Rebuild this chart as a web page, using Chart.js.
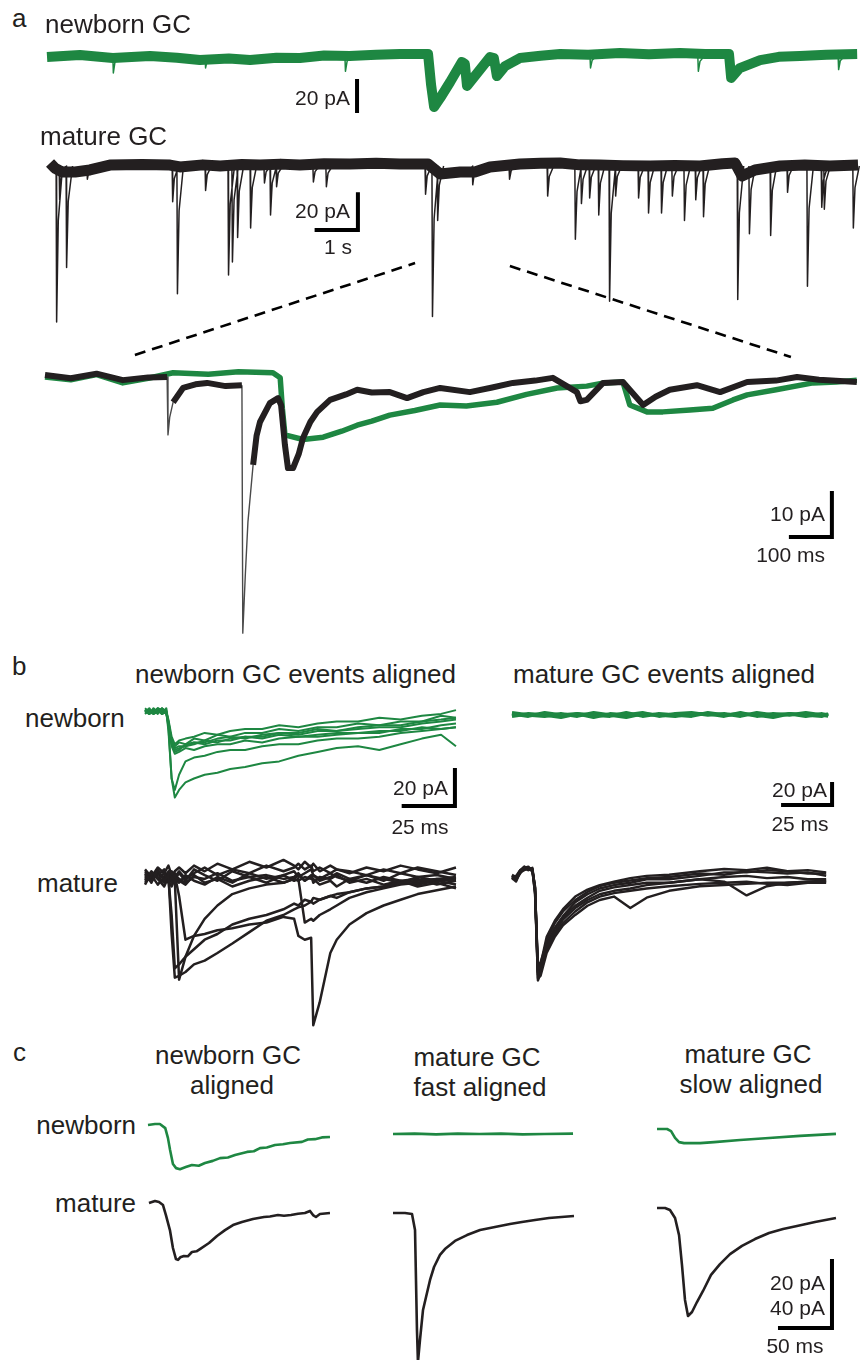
<!DOCTYPE html>
<html>
<head>
<meta charset="utf-8">
<script src="https://cdn.jsdelivr.net/npm/chart.js@4.4.1/dist/chart.umd.min.js"></script>
<style>
  html, body { margin: 0; padding: 0; background: #fff; }
  #page { position: relative; width: 862px; height: 1360px; overflow: hidden;
          font-family: "Liberation Sans", Arial, Helvetica, sans-serif; color: #231f20; }
  #page canvas { position: absolute; }
  .lbl { position: absolute; white-space: nowrap; line-height: 1; }
</style>
</head>
<body>
<div id="page"></div>
<script>
const green = '#1e8742'
const black = '#231f20'

// ---- a: overview recordings, time in s, current in pA
const newbornOverview = [
  [0,-0.6],[0.76,0.6],[1.52,-1.2],[2.38,0],[3.0,-1],[3.53,-2.4],[4.2,-1.5],[4.69,-2.4],[5.3,-1],[5.84,-1.2],
  [6.4,0.3],[6.99,0],[7.6,0.8],[8.15,1.2],[8.80,1.2],[8.87,-17],[8.94,-30],[9.08,-24.7],[9.31,-15.3],[9.58,-3.5],
  [9.65,-4.7],[9.70,-17.6],[9.88,-11.8],[10.23,-0.6],[10.32,-1.2],[10.39,-11.8],[10.58,-5.9],[10.92,-1.2],[11.4,0.2],
  [11.85,1.2],[12.5,0.8],[13.23,1.8],[13.9,1],[14.62,1.8],[15.2,1.2],[15.75,1.2],[15.80,-12.9],[16.0,-7.1],
  [16.47,-2.4],[16.9,-0.5],[17.39,0],[18.0,0.8],[18.71,1.2]
]
const newbornEventTimes = [1.52, 3.65, 6.88, 12.54, 15.03, 18.27]
const newbornEventAmps = [-10, -7, -9, -7, -9, -8]
const matureBaseline = [
  [0.07,1.6],[0.18,-1.1],[0.35,-3.2],[0.65,-3.2],[0.99,-2.1],[1.45,0.5],[2.2,0.8],[2.84,0.5],[3.07,-0.5],[3.6,0.6],
  [4.0,0],[4.5,0.8],[4.92,0.5],[5.4,1],[5.84,0.5],[6.4,1.2],[7.0,1.1],[7.6,1.5],[8.15,1.1],[8.8,1.1],[9.08,-4.3],
  [9.54,-3.2],[9.88,-3.2],[10.23,-0.5],[10.92,1.1],[11.4,1.4],[11.85,1.6],[12.3,0.6],[12.77,0.5],[13.3,0.2],
  [13.93,0],[14.5,0.3],[15.08,0],[15.6,1.2],[15.89,1.6],[16.05,-5.3],[16.35,-2.1],[16.93,0],[17.5,0.5],[18.08,0],[18.73,0.5]
]
const matureEventTimes = [0.21,0.28,0.44,0.92,2.89,3.00,3.65,4.18,4.27,4.39,4.69,5.01,5.15,5.29,6.14,6.44,8.73,8.89,
  9.01,9.82,10.67,11.55,12.19,12.33,12.52,12.73,12.98,13.12,13.65,13.88,14.18,14.43,14.71,14.97,15.15,15.94,16.21,
  16.70,17.09,17.55,17.88,17.94,18.61]
const matureEventAmps = [-83,-18,-54,-7,-19,-68,-13,-58,-51,-38,-33,-9,-26,-11,-8.5,-11,-15,-80,
  -29,-10,-7,-16,-39,-20,-17,-26,-72,-16,-17,-25,-25,-16,-29,-18,-27,-71,-36,
  -37,-14,-64,-22,-23,-33]
// event waveform: [offset s, fraction of peak]
const spikeShape = [[0,0],[0.012,1],[0.05,0.35],[0.15,0]]
// guides from the overview window to the expanded traces
const windowGuideLeft = [[2.03,-100.5],[8.5,-51.6]]
const windowGuideRight = [[10.69,-53.2],[17.18,-101.6]]

// ---- a: expanded traces, time in ms
const zoomNewborn = [
  [0,-0.2],[60,-0.8],[120,0.3],[181,-1.5],[240,-0.5],[298,0.7],[380,0.4],[450,0.9],[530,0.7],[547,-0.4],[552,-7],
  [558,-12.8],[600,-13.8],[647,-13.3],[690,-12],[726,-10.7],[760,-9.8],[802,-8.5],[860,-7.5],[919,-6.3],[980,-6.5],
  [1051,-5.7],[1120,-4],[1191,-2.6],[1260,-2.2],[1300,-1.5],[1344,-1.3],[1360,-6.3],[1400,-7.8],[1437,-7.8],
  [1500,-7.4],[1553,-7.0],[1600,-5.2],[1633,-4.1],[1700,-3],[1786,-1.5],[1840,-1.3],[1888,-0.9]
]
const zoomMature = [
  [0,0.2],[60,-0.5],[120,0.5],[181,-0.9],[240,-0.3],[284,-0.2],[285,null],[298,-5.7],[321,-2.6],[350,-1.8],
  [377,-1.5],[420,-2.2],[458,-2.0],[459,null],[484,-19.3],[492,-13],[500,-10],[523,-5.9],[542,-4.8],[549,-6.3],
  [558,-15],[565,-20],[577,-20],[590,-17],[600,-13.5],[617,-10],[633,-7.8],[663,-5.2],[700,-4],[726,-3.0],
  [760,-3.6],[802,-3.5],[842,-4.8],[880,-3.5],[919,-2.6],[988,-3.5],[1040,-2.5],[1088,-1.5],[1140,-1],[1181,-0.4],
  [1237,-3.5],[1245,-5.5],[1260,-5.2],[1298,-1.5],[1344,-1.3],[1391,-6.3],[1420,-4.5],[1453,-3.0],[1516,-2.0],
  [1570,-3.5],[1633,-1.3],[1700,-1],[1749,-0.2],[1800,-0.8],[1888,-1.3]
]
const zoomMatureFast = [
  [284,-0.2],[286,-12.8],[290,-9],[298,-5.7],[299,null],
  [458,-2],[460,-55.9],[466,-43],[472,-31.7],[484,-19.3]
]

// ---- b: aligned events, time in ms
const bTimesLeft = [0,2,4,6,8,10,11,12.5,14,16,19,23,28,34,40,47,55,63,72,81,90,100,110,120,130,139,146]
const newbornAlignedNewborn = [
  [1,-1,2,0,1,-1,-6,-15,-18,-16,-17,-14,-15,-12,-13,-11,-11,-9,-10,-8,-8,-6,-7,-5,-5,-2,-3],
  [0,2,-1,1,-1,0,-5,-16,-20,-19,-18,-17,-15,-16,-14,-13,-13,-11,-12,-10,-10,-9,-8,-8,-6,-5,-4],
  [-1,1,0,2,0,1,-7,-18,-22,-21,-19,-20,-18,-17,-17,-15,-16,-14,-13,-13,-12,-11,-11,-9,-9,-7,-6],
  [2,0,1,-1,2,0,-4,-13,-17,-15,-14,-13,-11,-12,-10,-9,-9,-7,-8,-6,-5,-5,-3,-4,-2,-1,1],
  [0,-1,1,1,-1,2,-6,-17,-21,-20,-17,-16,-16,-14,-13,-14,-12,-11,-11,-9,-10,-8,-7,-7,-5,-4,-3],
  [1,0,-1,2,1,-1,-5,-15,-19,-18,-18,-16,-17,-15,-15,-13,-14,-12,-13,-12,-11,-11,-10,-10,-8,-9,-8],
  [0,1,-1,0,2,0,-10,-35,-41,-33,-26,-24,-23,-21,-20,-20,-18,-17,-17,-15,-14,-14,-13,-11,-10,-9,-8],
  [1,-1,0,1,-1,0,-8,-35,-45,-41,-37,-35,-33,-32,-30,-29,-27,-26,-23,-21,-19,-18,-20,-17,-14,-12,-18]
]
const bTimesFlat = [0,8,16,24,32,40,48,56,64,72,80,88,96,104,112,120,128,136,144,152,155]
const matureAlignedNewborn = [
  [1,-1,2,0,1,-2,1,0,2,-1,1,2,0,1,-1,2,0,1,-1,1,0],
  [-1,1,0,-2,1,0,-1,2,-1,1,0,-1,2,0,1,0,-2,1,0,-1,1],
  [2,0,-1,1,-1,2,0,-2,1,0,-1,1,1,-1,2,-1,1,0,2,0,-1]
]
const bTimesMature = [0,3,6,9,11,12.5,14,16,19,23,28,34,41,49,57,65,70,72,75,78,79,82,87,90,96,104,112,120,128,137,146]
const newbornAlignedMature = [
  [2,-3,4,-2,1,-30,-53,-52,-50,-46,-44,-40,-35,-29,-23,-20,-17,-16,-15,-13,-14,-12,-10,-11,-8,-6,-5,-3,-2,-1,0],
  [-2,3,-1,2,-3,0,-2,-54,-42,-31,-22,-15,-9,-6,-4,-3,-1,-2,0,-1,1,-2,0,2,-1,1,-2,2,0,1,-1],
  [1,-2,3,-1,2,-1,1,-10,-33,-31,-30,-28,-27,-25,-24,-21,-22,-31,-33,-32,-78,-66,-40,-33,-25,-19,-15,-12,-9,-7,-5],
  [-1,2,0,-3,1,3,-1,2,-2,4,1,-2,3,0,-3,1,-2,-1,-24,-22,-23,-20,-17,-15,-11,-8,-6,-4,-3,-1,-2],
  [3,-1,1,4,-2,2,0,3,-1,2,5,1,4,2,6,3,5,7,4,6,3,5,2,4,3,1,4,2,5,3,1],
  [-3,1,-4,0,-2,-5,-1,-3,1,-2,-4,0,-3,2,-1,1,3,0,2,4,1,-1,2,0,-2,1,-1,-3,0,-2,-4],
  [0,-2,2,-1,3,-2,1,-1,-3,0,-1,2,-2,0,1,-1,0,2,-2,1,-3,0,-1,1,-3,-1,-4,-2,-5,-3,-6],
  [1,-1,2,0,-1,-20,-48,-46,-42,-38,-33,-30,-25,-22,-20,-17,-14,-15,-12,-13,-11,-12,-10,-9,-8,-6,-5,-3,-4,-2,-1],
  [-4,2,-1,-5,0,-3,2,-2,-4,1,-3,-1,-5,-2,0,-3,-1,1,-2,0,-1,-4,-2,-5,-1,-3,0,-2,-1,-4,-2],
  [4,0,5,2,6,1,3,5,2,6,3,7,4,8,5,9,6,4,8,5,7,3,6,4,2,5,3,6,4,2,5]
]
const bTimesRight = [0,2,4,6,8,10,11.3,12.7,14,17,21,25,31,37,43,50,58,66,77,92,104,115,125,135,145,154]
const matureAlignedMature = [
  [0,-3,5,8,6,7,-10,-80,-78,-55,-40,-30,-20,-13,-8,-5,-3,-1,0,3,2,5,4,3,4,1],
  [2,0,4,9,7,5,-12,-85,-82,-62,-48,-37,-27,-20,-15,-12,-10,-7,-5,-2,0,1,-1,0,-2,-2],
  [-2,1,6,7,8,6,-15,-88,-86,-66,-52,-42,-33,-25,-20,-17,-27,-18,-12,-8,-7,-6,-5,-5,-4,-4],
  [1,-2,3,8,9,5,-8,-90,-84,-60,-45,-35,-25,-18,-12,-9,-7,-5,-5,-2,-4,-16,-8,-5,-4,-3],
  [-1,-4,4,6,7,8,-10,-78,-74,-58,-44,-34,-22,-15,-10,-7,-5,-2,-2,1,4,4,6,5,3,3],
  [0,-1,6,9,6,7,-14,-83,-80,-63,-50,-40,-30,-22,-17,-14,-12,-10,-8,-6,-5,-4,-6,-7,-5,-5],
  [1,-2,5,7,8,6,-9,-82,-76,-52,-38,-28,-17,-11,-7,-4,-1,1,2,5,7,6,8,5,6,4]
]

// ---- c: averaged events, time in ms
const avgNewbornAligned = {
  newborn: [[0,0],[6.5,0.3],[11,0.3],[16,-0.9],[18.5,-3.8],[20.4,-7.2],[23.1,-11.3],[26,-12.5],[29.6,-12.8],[35,-12.2],
    [40.7,-11.6],[47,-11.8],[52.8,-11.0],[60,-10.4],[66.7,-9.6],[74,-9.4],[80.6,-8.7],[91.7,-7.8],[98,-7.6],[103.7,-6.7],
    [110,-6.5],[117.6,-5.8],[125,-5.6],[131.5,-5.2],[142.6,-4.9],[148,-4.2],[154.6,-4.1],[161,-3.6],[168.5,-3.5]],
  mature: [[0,0],[5.6,1.2],[9.3,0.6],[13,-1.2],[15.7,-7],[19.4,-15.7],[22.2,-26.1],[25,-32.5],[26.9,-33],[29,-31.5],
    [32.4,-30.7],[36,-30.9],[39.8,-28.4],[44,-28],[47.2,-26.7],[55.6,-23.2],[63,-19.1],[70.4,-15.7],[77.8,-12.8],[86.1,-11],
    [96.3,-9.3],[106.5,-8.1],[112,-7.8],[119.4,-7],[125,-7.4],[131.5,-7],[138,-6.2],[144.4,-5.8],[149.1,-4.6],[151.9,-7],
    [154.6,-8.1],[158.3,-6.4],[167.6,-5.8]]
}
const avgFastAligned = {
  newborn: [[0,0],[20,0.1],[40,-0.1],[60,0.1],[80,0],[100,0.1],[120,-0.1],[140,0],[166.7,0.1]],
  mature: [[0,0],[11.1,0],[17.6,-0.6],[20.4,-9.9],[22.2,-67.8],[23.1,-86.4],[25,-73.6],[27.8,-56.2],[30.6,-48.7],[34.3,-38.8],
    [38,-31.3],[43.5,-24.3],[48.1,-20.9],[57.4,-16.2],[68.5,-12.8],[80.6,-9.9],[94.4,-8.1],[108.3,-6.4],[119.4,-5.2],
    [131.5,-4.1],[144.4,-2.9],[167.6,-1.7]]
}
const avgSlowAligned = {
  newborn: [[0,0],[9.3,0],[13,-0.6],[16.7,-2.6],[20.4,-3.8],[25,-4.1],[39.8,-4.1],[52.8,-3.8],[76.9,-3.2],[103.7,-2.6],
    [132.4,-2],[165.7,-1.4]],
  mature: [[0,0],[7.4,0],[12,-1.2],[16.7,-5.8],[20.4,-15.7],[23.1,-33],[25.9,-53.3],[28.7,-62.6],[32.4,-60.3],[37,-54.5],
    [42.6,-48.1],[50,-38.8],[58.3,-32.5],[67.6,-26.7],[78.7,-22],[90.7,-18],[103.7,-14.5],[116.7,-12.2],[129.6,-10.4],
    [146.3,-8.1],[165.7,-5.8]]
}

// ---- helpers
const page = document.getElementById('page')

function pts(pairs) {
  return pairs.map(p => ({ x: p[0], y: p[1] }))
}
function zipT(times, values) {
  return times.map((t, i) => ({ x: t, y: values[i] }))
}
function events(times, amps) {
  const out = []
  times.forEach((t, i) => {
    spikeShape.forEach(s => out.push({ x: t + s[0], y: amps[i] * s[1] }))
    out.push({ x: t + 0.16, y: null })
  })
  return out
}
function trace(data, color, width, extra) {
  return Object.assign({
    data: data, borderColor: color, borderWidth: width, pointRadius: 0, fill: false,
    tension: 0, borderJoinStyle: 'round', borderCapStyle: 'butt', spanGaps: false
  }, extra || {})
}
function scaleBar(pairs) {
  return trace(pts(pairs), '#000', 4, { borderJoinStyle: 'miter' })
}

// box: page position and size, t0 = time at left edge, kx = px per time unit,
// base = page row of 0 pA, ky = px per pA
function panel(box, datasets) {
  const c = document.createElement('canvas')
  c.width = box.w
  c.height = box.h
  c.style.left = box.left + 'px'
  c.style.top = box.top + 'px'
  page.appendChild(c)
  const yMax = (box.base - box.top) / box.ky
  return new Chart(c, {
    type: 'line',
    data: { datasets: datasets },
    options: {
      responsive: false,
      animation: false,
      events: [],
      devicePixelRatio: 1,
      layout: { padding: 0 },
      plugins: { legend: { display: false }, tooltip: { enabled: false } },
      scales: {
        x: { type: 'linear', display: false, min: box.t0, max: box.t0 + box.w / box.kx },
        y: { type: 'linear', display: false, min: yMax - box.h / box.ky, max: yMax }
      }
    }
  })
}

function label(text, x, y, size, align) {
  const d = document.createElement('div')
  d.className = 'lbl'
  d.textContent = text
  d.style.fontSize = size + 'px'
  d.style.left = x + 'px'
  d.style.top = y + 'px'
  const tx = align === 'c' ? '-50%' : align === 'r' ? '-100%' : '0'
  d.style.transform = 'translate(' + tx + ', -50%)'
  page.appendChild(d)
}

// ---- panel a
panel({ left: 40, top: 30, w: 822, h: 95, t0: -0.162, kx: 43.3, base: 56, ky: 1.7 }, [
  trace(pts(newbornOverview), green, 10),
  trace(events(newbornEventTimes, newbornEventAmps), green, 1.5),
  scaleBar([[7.16, -13.5], [7.16, -33.5]])
])
panel({ left: 40, top: 140, w: 822, h: 225, t0: -0.162, kx: 43.3, base: 166, ky: 1.88 }, [
  trace(pts(matureBaseline), black, 11),
  trace(events(matureEventTimes, matureEventAmps), black, 1.5),
  trace(pts(windowGuideLeft), '#000', 2.6, { borderDash: [11, 7] }),
  trace(pts(windowGuideRight), '#000', 2.6, { borderDash: [11, 7] }),
  scaleBar([[6.18, -34], [7.18, -34], [7.18, -14]])
])
panel({ left: 40, top: 355, w: 822, h: 285, t0: -11.6, kx: 0.43, base: 376, ky: 4.6 }, [
  trace(pts(zoomMature), black, 6),
  trace(pts(zoomMatureFast), '#4a4a4a', 1.4),
  trace(pts(zoomNewborn), green, 5.5),
  scaleBar([[1730, -35], [1830, -35], [1830, -25]])
])

// ---- panel b
panel({ left: 140, top: 695, w: 330, h: 120, t0: -2.35, kx: 2.13, base: 712, ky: 1.9 },
  newbornAlignedNewborn.map(v => trace(zipT(bTimesLeft, v), green, 2))
    .concat([scaleBar([[120.5, -49.5], [145.5, -49.5], [145.5, -29.5]])]))
panel({ left: 505, top: 695, w: 350, h: 120, t0: -3.43, kx: 2.04, base: 715, ky: 1.15 },
  matureAlignedNewborn.map(v => trace(zipT(bTimesFlat, v), green, 3.5))
    .concat([scaleBar([[131.9, -78.3], [156.9, -78.3], [156.9, -58.3]])]))
panel({ left: 140, top: 845, w: 330, h: 190, t0: -2.35, kx: 2.13, base: 877, ky: 1.9 },
  newbornAlignedMature.map(v => trace(zipT(bTimesMature, v), black, 2.5)))
panel({ left: 505, top: 845, w: 350, h: 150, t0: -3.43, kx: 2.04, base: 877, ky: 1.15 },
  matureAlignedMature.map(v => trace(zipT(bTimesRight, v), black, 2.4)))

// ---- panel c
panel({ left: 140, top: 1105, w: 205, h: 75, t0: -7.4, kx: 1.08, base: 1125, ky: 3.45 },
  [trace(pts(avgNewbornAligned.newborn), green, 2.6)])
panel({ left: 385, top: 1115, w: 200, h: 40, t0: -7.4, kx: 1.08, base: 1134, ky: 3.45 },
  [trace(pts(avgFastAligned.newborn), green, 2.6)])
panel({ left: 650, top: 1110, w: 200, h: 50, t0: -6.5, kx: 1.08, base: 1129, ky: 3.45 },
  [trace(pts(avgSlowAligned.newborn), green, 2.6)])
panel({ left: 140, top: 1185, w: 205, h: 95, t0: -8.3, kx: 1.08, base: 1203, ky: 1.725 },
  [trace(pts(avgNewbornAligned.mature), black, 2.6)])
panel({ left: 385, top: 1195, w: 200, h: 165, t0: -7.4, kx: 1.08, base: 1213, ky: 1.725 },
  [trace(pts(avgFastAligned.mature), black, 2.6)])
panel({ left: 650, top: 1190, w: 212, h: 170, t0: -6.5, kx: 1.08, base: 1208, ky: 1.725 }, [
  trace(pts(avgSlowAligned.mature), black, 2.6),
  scaleBar([[112, -69.6], [162, -69.6], [162, -29.6]])
])

// ---- text
label('a', 12, 18, 26, 'l')
label('newborn GC', 45, 24, 26, 'l')
label('20 pA', 350, 97, 21, 'r')
label('mature GC', 40, 136, 26, 'l')
label('20 pA', 350, 210, 21, 'r')
label('1 s', 338, 246, 21, 'c')
label('10 pA', 825, 513, 21, 'r')
label('100 ms', 825, 554, 21, 'r')

label('b', 12, 666, 26, 'l')
label('newborn GC events aligned', 135, 674, 26, 'l')
label('mature GC events aligned', 513, 674, 26, 'l')
label('newborn', 25, 718, 26, 'l')
label('mature', 37, 883, 26, 'l')
label('20 pA', 448, 787, 21, 'r')
label('25 ms', 420, 826, 21, 'c')
label('20 pA', 827, 789, 21, 'r')
label('25 ms', 800, 823, 21, 'c')

label('c', 13, 1052, 26, 'l')
label('newborn GC', 228, 1055, 26, 'c')
label('aligned', 232, 1085, 26, 'c')
label('mature GC', 477, 1057, 26, 'c')
label('fast aligned', 480, 1087, 26, 'c')
label('mature GC', 748, 1054, 26, 'c')
label('slow aligned', 751, 1084, 26, 'c')
label('newborn', 136, 1125, 26, 'r')
label('mature', 136, 1203, 26, 'r')
label('20 pA', 825, 1282, 21, 'r')
label('40 pA', 825, 1307, 21, 'r')
label('50 ms', 795, 1345, 21, 'c')
</script>
</body>
</html>
